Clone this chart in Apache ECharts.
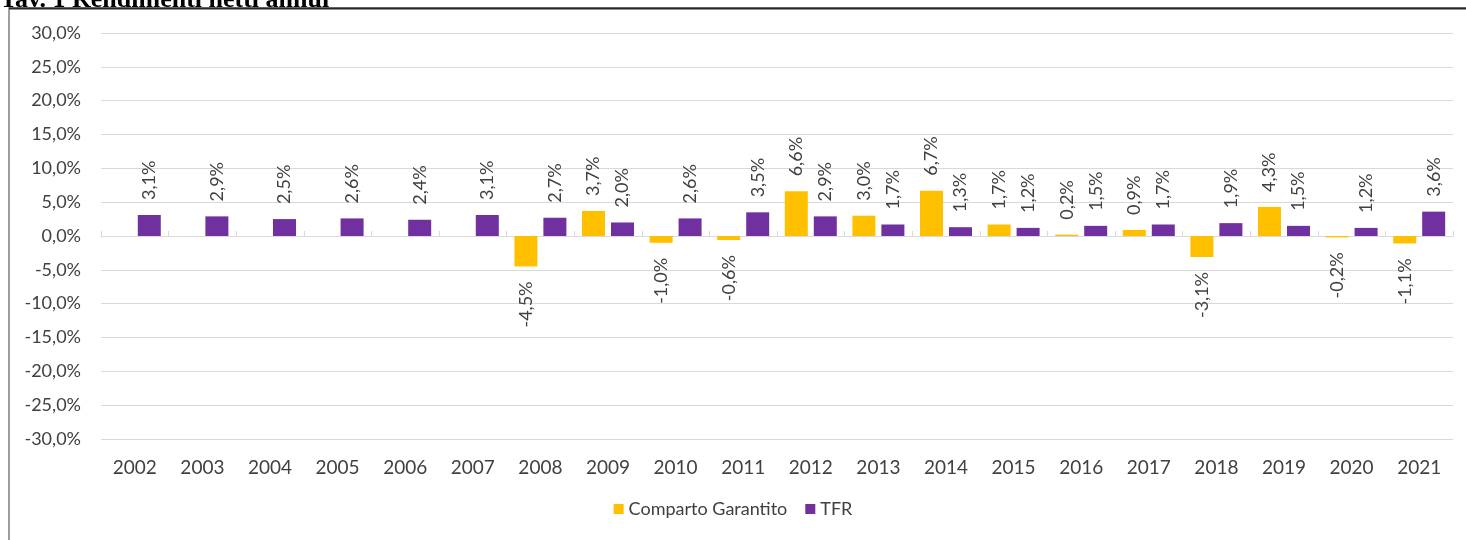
<!DOCTYPE html>
<html>
<head>
<meta charset="utf-8">
<script src="https://cdn.jsdelivr.net/npm/echarts@6/dist/echarts.min.js"></script>
<style>
  html, body { margin: 0; padding: 0; background: #fff; }
  #chart { width: 1466px; height: 540px; }
</style>
</head>
<body>
<div id="chart"></div>
<script>
const years = ['2002','2003','2004','2005','2006','2007','2008','2009','2010','2011',
               '2012','2013','2014','2015','2016','2017','2018','2019','2020','2021']
// rendimenti netti annui (%)
const garantito = [null, null, null, null, null, null, -4.5, 3.7, -1.0, -0.6,
                   6.6, 3.0, 6.7, 1.7, 0.2, 0.9, -3.1, 4.3, -0.2, -1.1]
const tfr = [3.1, 2.9, 2.5, 2.6, 2.4, 3.1, 2.7, 2.0, 2.6, 3.5,
             2.9, 1.7, 1.3, 1.2, 1.5, 1.7, 1.9, 1.5, 1.2, 3.6]
const yMin = -30, yMax = 30, yStep = 5

const pct = v => v.toFixed(1).replace('.', ',') + '%'

function withLabels(values) {
  return values.map(v => {
    if (v === null) return null
    const neg = v < 0
    return {
      value: v,
      label: {
        position: neg ? 'bottom' : 'top',
        align: neg ? 'right' : 'left',
        verticalAlign: 'middle'
      }
    }
  })
}

const labelStyle = {
  show: true,
  rotate: 90,
  distance: 15,
  fontFamily: 'Lato',
  fontSize: 18,
  color: '#404040',
  formatter: p => pct(p.value)
}

var myChart = echarts.init(document.getElementById('chart'))
myChart.setOption({
  animation: false,
  textStyle: { fontFamily: 'Lato' },
  graphic: [
    { type: 'rect', shape: { x: 9, y: 8, width: 1480, height: 560 },
      style: { fill: 'none', stroke: '#7f7f7f', lineWidth: 1.5 } },
    { type: 'line', shape: { x1: 9, y1: 8.5, x2: 1466, y2: 8.5 },
      style: { stroke: '#262626', lineWidth: 2 } },
    { type: 'text', x: 0, y: 13,
      style: { text: 'Tav. 1 Rendimenti netti annui', fontFamily: 'Liberation Serif',
               fontWeight: 'bold', fontSize: 26, fill: '#000', verticalAlign: 'bottom' } }
  ],
  grid: { left: 101, right: 13, top: 33, bottom: 101 },
  legend: {
    bottom: 17,
    left: 'center',
    itemWidth: 10,
    itemHeight: 10,
    itemGap: 18,
    itemTextGap: 4,
    icon: 'rect',
    textStyle: { fontFamily: 'Lato', fontSize: 18, color: '#404040' },
    data: ['Comparto Garantito', 'TFR']
  },
  xAxis: {
    type: 'category',
    data: years,
    axisLine: { onZero: true, lineStyle: { color: '#d9d9d9' } },
    axisTick: { show: true, inside: true, length: 5, lineStyle: { color: '#d9d9d9' } },
    axisLabel: {
      margin: 19,
      fontFamily: 'Lato',
      fontSize: 19,
      color: '#404040'
    }
  },
  yAxis: {
    type: 'value',
    min: yMin,
    max: yMax,
    interval: yStep,
    axisLine: { show: false },
    axisTick: { show: false },
    splitLine: { lineStyle: { color: '#d9d9d9' } },
    axisLabel: {
      margin: 20,
      fontFamily: 'Lato',
      fontSize: 18,
      color: '#404040',
      formatter: v => pct(v)
    }
  },
  series: [
    {
      name: 'Comparto Garantito',
      type: 'bar',
      data: withLabels(garantito),
      barWidth: 23,
      barGap: '26%',
      itemStyle: { color: '#FFC000' },
      label: labelStyle
    },
    {
      name: 'TFR',
      type: 'bar',
      data: withLabels(tfr),
      barWidth: 23,
      barGap: '26%',
      itemStyle: { color: '#7030A0' },
      label: labelStyle
    }
  ]
})
</script>
</body>
</html>
